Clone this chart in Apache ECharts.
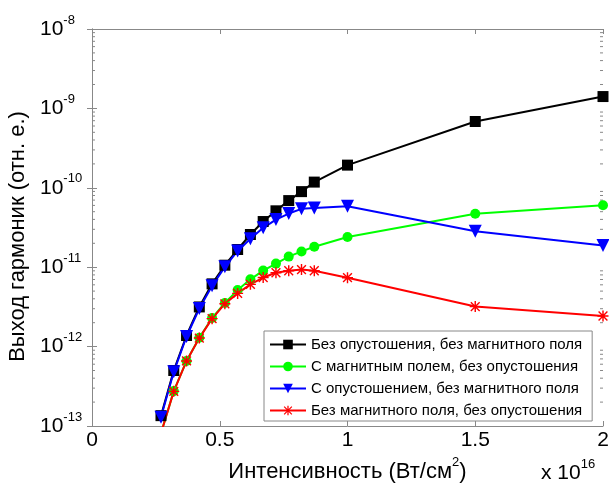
<!DOCTYPE html>
<html>
<head>
<meta charset="utf-8">
<script src="https://cdn.jsdelivr.net/npm/echarts@6/dist/echarts.min.js"></script>
<style>
  html, body { margin: 0; padding: 0; background: #fff; }
  #chart { width: 609px; height: 485px; }
</style>
</head>
<body>
<div id="chart"></div>
<script>
// интенсивность, x 10^16 Вт/см2
const intensity = [0.27, 0.32, 0.37, 0.42, 0.47, 0.52, 0.57, 0.62, 0.67, 0.72, 0.77, 0.82, 0.87, 1.0, 1.5, 2.0];

// выход гармоник (отн. е.)
const noDepNoField = [1.35e-13, 5.0e-13, 1.38e-12, 3.16e-12, 6.17e-12, 1.06e-11, 1.67e-11, 2.58e-11,
  3.76e-11, 5.13e-11, 6.90e-11, 8.95e-11, 1.18e-10, 1.93e-10, 6.84e-10, 1.41e-9];
const fieldNoDep = [8.1e-14, 2.75e-13, 6.6e-13, 1.29e-12, 2.29e-12, 3.55e-12, 5.15e-12, 7.03e-12,
  9.06e-12, 1.11e-11, 1.36e-11, 1.58e-11, 1.81e-11, 2.40e-11, 4.70e-11, 6.03e-11];
const depNoField = [1.29e-13, 4.81e-13, 1.34e-12, 3.01e-12, 5.82e-12, 1.01e-11, 1.60e-11, 2.28e-11,
  3.13e-11, 3.98e-11, 4.74e-11, 5.43e-11, 5.58e-11, 5.86e-11, 2.84e-11, 1.88e-11];
const noFieldNoDep = [8.1e-14, 2.73e-13, 6.6e-13, 1.28e-12, 2.25e-12, 3.46e-12, 4.68e-12, 6.08e-12,
  7.41e-12, 8.51e-12, 9.02e-12, 9.33e-12, 9.02e-12, 7.38e-12, 3.19e-12, 2.43e-12];

const seriesNames = [
  'Без опустошения, без магнитного поля',
  'С магнитным полем, без опустошения',
  'С опустошением, без магнитного поля',
  'Без магнитного поля, без опустошения'
];

const xTicks = [0, 0.5, 1, 1.5, 2];
const yDecades = [-13, -12, -11, -10, -9, -8];

// мелкие деления логарифмической шкалы 2..9 в каждой декаде
const minorTicks = [];
for (let d = -13; d < -8; d++) {
  for (let m = 2; m <= 9; m++) minorTicks.push([0, m * Math.pow(10, d)]);
}

const FONT = 'Liberation Sans, Arial, sans-serif';
const AXIS_GRAY = '#888';

function supRich(size) {
  return {
    b: { fontSize: size, lineHeight: size, padding: [5, 0, 5, 0], fontFamily: FONT, color: '#000' },
    s: { fontSize: 13, lineHeight: 13, padding: [0, 0, 18, 0], fontFamily: FONT, color: '#000' }
  };
}

const starPath = 'path://M8.7,0H11.3V20H8.7Z M0,8.7H20V11.3H0Z M2.9,1.1L18.9,17.1L17.1,18.9L1.1,2.9Z M17.1,1.1L18.9,2.9L2.9,18.9L1.1,17.1Z';

function pairs(ys) {
  return intensity.map((x, i) => [x, ys[i]]);
}

function lineSeries(name, ys, color, symbol, size, extra) {
  return Object.assign({
    name: name,
    type: 'line',
    data: pairs(ys),
    symbol: symbol,
    symbolSize: size,
    showAllSymbol: true,
    lineStyle: { color: color, width: 2 },
    itemStyle: { color: color, borderWidth: 0 },
    clip: true
  }, extra || {});
}

const chart = echarts.init(document.getElementById('chart'));

chart.setOption({
  animation: false,
  backgroundColor: '#fff',
  grid: { left: 92, right: 6, top: 29, bottom: 59, outerBoundsMode: 'none', containLabel: false },
  xAxis: [{
    type: 'value', min: 0, max: 2, interval: 0.5,
    name: '{b|Интенсивность (Вт/см}{s|2}{b|)}',
    nameLocation: 'middle', nameGap: 30,
    nameTextStyle: { rich: supRich(22) },
    axisLine: { show: true, lineStyle: { color: AXIS_GRAY, width: 1 } },
    axisTick: { inside: true, length: 5, lineStyle: { color: AXIS_GRAY } },
    axisLabel: { margin: 4, fontSize: 21, fontFamily: FONT, color: '#000',
      formatter: v => (xTicks.indexOf(v) >= 0 ? String(v) : '') },
    splitLine: { show: false }
  }, {
    type: 'value', min: 0, max: 2, interval: 0.5, position: 'top',
    axisLine: { show: true, lineStyle: { color: AXIS_GRAY, width: 1 } },
    axisTick: { inside: true, length: 5, lineStyle: { color: AXIS_GRAY } },
    axisLabel: { show: false },
    splitLine: { show: false }
  }],
  yAxis: [{
    type: 'log', logBase: 10, min: 1e-13, max: 1e-8, splitNumber: 5,
    name: 'Выход гармоник (отн. е.)',
    nameLocation: 'middle', nameGap: 57,
    nameTextStyle: { fontSize: 22, fontFamily: FONT, color: '#000', padding: [0, 18, 0, 0] },
    axisLine: { show: true, lineStyle: { color: AXIS_GRAY, width: 1 } },
    axisTick: { inside: true, length: 5, lineStyle: { color: AXIS_GRAY } },
    axisLabel: {
      margin: 52,
      align: 'left',
      formatter: v => {
        const e = Math.round(Math.log10(v));
        return yDecades.indexOf(e) >= 0 ? '{b|10}{s|' + e + '}' : '';
      },
      rich: supRich(21)
    },
    splitLine: { show: false }
  }, {
    type: 'log', logBase: 10, min: 1e-13, max: 1e-8, splitNumber: 5, position: 'right',
    axisLine: { show: true, lineStyle: { color: AXIS_GRAY, width: 1 } },
    axisTick: { inside: true, length: 5, lineStyle: { color: AXIS_GRAY } },
    axisLabel: { show: false },
    splitLine: { show: false }
  }],
  legend: {
    orient: 'vertical',
    left: 264, top: 331,
    itemWidth: 36, itemHeight: 12, itemGap: 7,
    padding: [6, 10, 3, 5],
    borderColor: AXIS_GRAY, borderWidth: 1,
    backgroundColor: '#fff',
    textStyle: { fontSize: 15, fontFamily: FONT, color: '#000' },
    data: seriesNames
  },
  graphic: [{
    type: 'text', left: 541, top: 458,
    style: { text: '{b|x 10}{s|16}', rich: supRich(21) }
  }],
  series: [
    {
      type: 'custom', silent: true, xAxisIndex: 0, yAxisIndex: 0,
      data: minorTicks,
      renderItem: function (params, api) {
        const v = api.value(1);
        const l = api.coord([0, v]);
        const r = api.coord([2, v]);
        const st = { stroke: AXIS_GRAY, lineWidth: 1 };
        return {
          type: 'group',
          children: [
            { type: 'line', shape: { x1: l[0], y1: l[1], x2: l[0] + 3, y2: l[1] }, style: st },
            { type: 'line', shape: { x1: r[0] - 3, y1: r[1], x2: r[0], y2: r[1] }, style: st }
          ]
        };
      }
    },
    lineSeries(seriesNames[0], noDepNoField, '#000000', 'rect', 11),
    lineSeries(seriesNames[1], fieldNoDep, '#00ff00', 'circle', 10),
    lineSeries(seriesNames[2], depNoField, '#0000ff', 'triangle', 13, { symbolRotate: 180 }),
    lineSeries(seriesNames[3], noFieldNoDep, '#ff0000', starPath, 11)
  ]
});

window.onresize = function () {
  chart.resize();
};
</script>
</body>
</html>
